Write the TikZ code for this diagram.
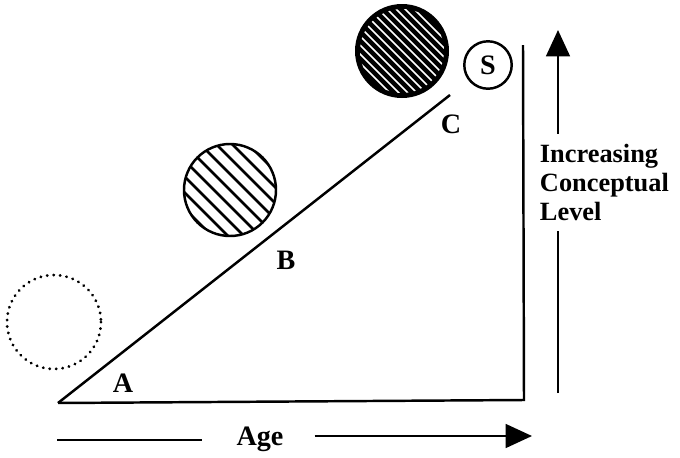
\documentclass[tikz,border=0pt]{standalone}
\usepackage{fontspec}
\setmainfont{Liberation Serif}
\usetikzlibrary{arrows.meta}

\tikzset{
  lbl/.style={font=\fontsize{16pt}{16.5pt}\selectfont\bfseries, inner sep=1pt},
  axislbl/.style={font=\fontsize{15pt}{16.5pt}\selectfont\bfseries, inner sep=1pt},
  bigtip/.style={-{Triangle[length=15pt, width=13.5pt]}}
}

\begin{document}
\begin{tikzpicture}[x=0.02cm, y=-0.02cm, line width=1.4pt]
  \useasboundingbox (0,0) rectangle (680,457);
  % Triangle of development
  \coordinate (orig) at (58,403);
  \coordinate (corner) at (524,400);
  \coordinate (vtop) at (523,45);
  \coordinate (ctop) at (450,95);
  \draw (orig) -- (corner) -- (vtop);
  \draw (orig) -- (ctop);
  % Stage labels
  \node[lbl] (la) at (123,383) {A};
  \node[lbl] (lb) at (286,260) {B};
  \node[lbl] (lc) at (451,124) {C};
  % Dotted circle near A
  \draw[dash pattern=on 0.1pt off 3.6pt, line cap=round, line width=1.7pt]
    (54,322) circle (47);
  % Hatched circle near B
  \draw (230,190) circle (46);
  \begin{scope}[shift={(230,190)}]
    \clip (0,0) circle (46);
    \foreach \k in {-112,-96,...,112}
      \draw[line width=1.6pt] (\k-70,-70) -- (\k+70,70);
  \end{scope}
  % Dark circle near C
  \fill (402,51) circle (47);
  \begin{scope}[shift={(402,51)}]
    \clip (0,0) circle (42);
    \foreach \k in {-117,-108,...,117}
      \draw[white, line width=0.9pt] (\k-70,-70) -- (\k+70,70);
  \end{scope}
  % S circle
  \node[lbl, draw, circle, line width=1.4pt, minimum size=27pt] (ls) at (488,65) {S};
  % Conceptual level axis
  \node[axislbl, align=left, anchor=north west] (lvl) at (537,141)
    {Increasing\\Conceptual\\Level};
  \coordinate (ltop) at (558,30);
  \coordinate (lbot) at (558,393);
  \draw (lbot) -- ([yshift=-4pt]lvl.south west -| lbot);
  \draw[bigtip] ([yshift=4pt]lvl.north west -| ltop) -- (ltop);
  % Age axis
  \node[lbl] (age) at (260,439) {Age};
  \coordinate (aleft) at (57,440);
  \coordinate (aright) at (532,436);
  \draw (aleft) -- ([xshift=-18pt]age.west |- aleft);
  \draw[bigtip] ([xshift=16pt]age.east |- aright) -- (aright);
\end{tikzpicture}
\end{document}
